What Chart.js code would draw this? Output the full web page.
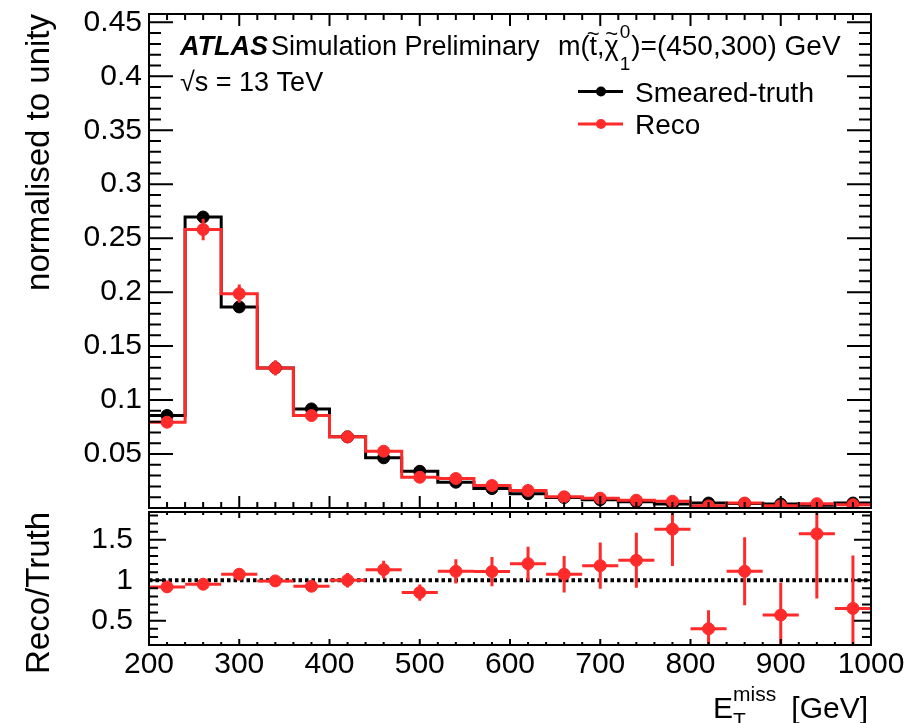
<!DOCTYPE html>
<html>
<head>
<meta charset="utf-8">
<script src="https://cdn.jsdelivr.net/npm/chart.js@4"></script>
<style>
  html, body { margin: 0; background: #fff; }
  #wrap { position: relative; width: 919px; height: 723px; }
  #wrap canvas { position: absolute; left: 0; top: 0; }
</style>
</head>
<body>
<div id="wrap">
  <canvas id="main" width="919" height="723"></canvas>
  <canvas id="ratio" width="919" height="723"></canvas>
</div>
<script>
const FONT = '"Liberation Sans", Arial, Helvetica, sans-serif';
const RED = '#ff2a2a';

// binning in E_T^miss [GeV]
const BIN_EDGES = [200, 240, 280, 320, 360, 400, 440, 480, 520, 560, 600, 640, 680, 720, 760, 800, 840, 880, 920, 960, 1000];
const BIN_CENTERS = [220, 260, 300, 340, 380, 420, 460, 500, 540, 580, 620, 660, 700, 740, 780, 820, 860, 900, 940, 980];

// normalised distributions
const TRUTH = [0.0857, 0.2696, 0.1863, 0.1298, 0.0918, 0.0659, 0.0465, 0.0340, 0.0239, 0.0180,
               0.0131, 0.0097, 0.0077, 0.0058, 0.0038, 0.0046, 0.0041, 0.0037, 0.0025, 0.0046];
const RECO = [0.0795, 0.2580, 0.1986, 0.1298, 0.0856, 0.0659, 0.0526, 0.0285, 0.0273, 0.0208,
              0.0162, 0.0104, 0.0091, 0.0072, 0.0062, 0.0019, 0.0046, 0.0021, 0.0040, 0.0030];
const RECO_ERR = [0.004, 0.010, 0.0085, 0.007, 0.005, 0.004, 0.0035, 0.003, 0.003, 0.0025,
                  0.0025, 0.002, 0.002, 0.002, 0.002, 0.0015, 0.002, 0.0015, 0.002, 0.0015];

// ratio panel
const RATIO = [0.918, 0.951, 1.074, 0.992, 0.926, 1.0, 1.131, 0.848, 1.11, 1.107,
               1.205, 1.074, 1.18, 1.246, 1.63, 0.40, 1.11, 0.57, 1.574, 0.652];
const RATIO_ERR = [0.045, 0.035, 0.045, 0.04, 0.04, 0.09, 0.11, 0.10, 0.15, 0.18,
                   0.21, 0.225, 0.285, 0.34, 0.455, 0.23, 0.42, 0.40, 0.80, 0.655];

const X_TICKS = [200, 300, 400, 500, 600, 700, 800, 900, 1000];
const Y_TICKS = [0.05, 0.1, 0.15, 0.2, 0.25, 0.3, 0.35, 0.4, 0.45];
const RATIO_TICKS = [0.5, 1, 1.5];

Chart.defaults.font.family = FONT;
Chart.defaults.color = '#000';

const stepData = vals => BIN_EDGES.map((x, i) => ({ x, y: vals[Math.min(i, vals.length - 1)] }));
const pointData = vals => BIN_CENTERS.map((x, i) => ({ x, y: vals[i] }));

function steps(min, max, step) {
  const out = [];
  for (let i = Math.ceil(min / step - 1e-6); i * step <= max + 1e-9; i++) out.push(i * step);
  return out;
}

// ROOT-like frame with inward ticks on all four sides
function drawFrame(chart, t) {
  const { ctx, chartArea: a, scales: { x, y } } = chart;
  ctx.save();
  ctx.strokeStyle = '#000';
  ctx.lineWidth = 2;
  ctx.beginPath();
  const seg = (x1, y1, x2, y2) => { ctx.moveTo(x1, y1); ctx.lineTo(x2, y2); };
  const xt = (v, len) => { const p = x.getPixelForValue(v); seg(p, a.bottom, p, a.bottom - len); seg(p, a.top, p, a.top + len); };
  const yt = (v, len) => { const p = y.getPixelForValue(v); seg(a.left, p, a.left + len, p); seg(a.right, p, a.right - len, p); };
  steps(x.min, x.max, t.xMinor).forEach(v => xt(v, t.xLen[1]));
  X_TICKS.forEach(v => xt(v, t.xLen[0]));
  steps(y.min, y.max, t.yMinor).forEach(v => yt(v, t.yLen[1]));
  t.yTicks.forEach(v => yt(v, t.yLen[0]));
  ctx.stroke();
  ctx.strokeRect(a.left, a.top, a.right - a.left, a.bottom - a.top);
  ctx.restore();
}

function drawErrors(chart, vals, errs, withX, color) {
  const { ctx, chartArea: a, scales: { x, y } } = chart;
  ctx.save();
  ctx.beginPath();
  ctx.rect(a.left, a.top, a.right - a.left, a.bottom - a.top);
  ctx.clip();
  ctx.strokeStyle = color;
  ctx.lineWidth = 3;
  ctx.beginPath();
  BIN_CENTERS.forEach((c, i) => {
    const px = x.getPixelForValue(c);
    ctx.moveTo(px, y.getPixelForValue(vals[i] - errs[i]));
    ctx.lineTo(px, y.getPixelForValue(vals[i] + errs[i]));
    if (withX) {
      const py = y.getPixelForValue(vals[i]);
      ctx.moveTo(x.getPixelForValue(BIN_EDGES[i]), py);
      ctx.lineTo(x.getPixelForValue(BIN_EDGES[i + 1]), py);
    }
  });
  ctx.stroke();
  ctx.restore();
}

function text(ctx, s, x, y, size, style, align) {
  ctx.font = `${style || ''} ${size}px ${FONT}`;
  ctx.textAlign = align || 'left';
  ctx.textBaseline = 'alphabetic';
  ctx.fillStyle = '#000';
  ctx.fillText(s, x, y);
  return ctx.measureText(s).width;
}

function vtitle(ctx, s, x, yEnd, size) {
  ctx.save();
  ctx.translate(x, yEnd);
  ctx.rotate(-Math.PI / 2);
  text(ctx, s, 0, 0, size, '', 'right');
  ctx.restore();
}

const mainDeco = {
  id: 'mainDeco',
  beforeDatasetDraw(chart, args) {
    if (args.index === 3) drawErrors(chart, RECO, RECO_ERR, false, RED);
  },
  afterDatasetsDraw(chart) {
    drawFrame(chart, { xMinor: 20, yMinor: 0.01, xLen: [12, 6], yLen: [24, 12], yTicks: Y_TICKS });
  },
  afterDraw(chart) {
    const ctx = chart.ctx;
    vtitle(ctx, 'normalised to unity', 49, chart.chartArea.top, 33);

    // ATLAS label
    const w = text(ctx, 'ATLAS', 180, 55, 27, 'italic bold');
    text(ctx, 'Simulation Preliminary', 180 + w + 3, 55, 27);
    text(ctx, '\u221As = 13 TeV', 180, 91, 27);

    // m(stop, neutralino) label
    let x = 558;
    x += text(ctx, 'm(', x, 55, 27);
    const tw = text(ctx, 't', x, 55, 27);
    text(ctx, '~', x + tw / 2, 41, 22, '', 'center');
    x += tw;
    x += text(ctx, ',', x, 55, 27);
    const cw = text(ctx, '\u03C7', x, 55, 27);
    text(ctx, '~', x + cw / 2, 41, 22, '', 'center');
    x += cw;
    text(ctx, '1', x + 1, 70, 19);
    x += text(ctx, '0', x + 1, 38, 19) + 2;
    text(ctx, ')=(450,300) GeV', x, 55, 28);

    // legend
    const items = [['Smeared-truth', '#000', 91.5], ['Reco', RED, 124]];
    items.forEach(([label, col, ly]) => {
      ctx.save();
      ctx.strokeStyle = col;
      ctx.fillStyle = col;
      ctx.lineWidth = 3;
      ctx.beginPath();
      ctx.moveTo(578, ly);
      ctx.lineTo(623, ly);
      ctx.stroke();
      ctx.beginPath();
      ctx.arc(601, ly, 5, 0, Math.PI * 2);
      ctx.fill();
      ctx.restore();
      text(ctx, label, 635, ly + 10, 28);
    });
  }
};

const ratioDeco = {
  id: 'ratioDeco',
  beforeDatasetDraw(chart, args) {
    if (args.index === 1) drawErrors(chart, RATIO, RATIO_ERR, true, RED);
  },
  afterDatasetsDraw(chart) {
    drawFrame(chart, { xMinor: 20, yMinor: 0.1, xLen: [6, 3], yLen: [17, 9], yTicks: RATIO_TICKS });
  },
  afterDraw(chart) {
    const ctx = chart.ctx;
    vtitle(ctx, 'Reco/Truth', 49, chart.chartArea.top, 33);
    // x-axis title E_T^miss [GeV]
    const ew = text(ctx, 'E', 713, 718, 30);
    text(ctx, 'T', 713 + ew, 727, 21);
    text(ctx, 'miss', 713 + ew, 701, 21);
    text(ctx, '[GeV]', 868, 718, 30, '', 'right');
  }
};

new Chart(document.getElementById('main'), {
  type: 'scatter',
  data: {
    datasets: [
      { label: 'Smeared-truth', data: stepData(TRUTH), showLine: true, stepped: true,
        borderColor: '#000', borderWidth: 3, pointRadius: 0, order: 4 },
      { label: 'Reco', data: stepData(RECO), showLine: true, stepped: true,
        borderColor: RED, borderWidth: 3, pointRadius: 0, order: 3 },
      { data: pointData(TRUTH), pointRadius: 6, backgroundColor: '#000', borderColor: '#000', order: 2 },
      { data: pointData(RECO), pointRadius: 6, backgroundColor: RED, borderColor: RED, order: 1 }
    ]
  },
  options: {
    responsive: false,
    animation: false,
    events: [],
    layout: { padding: { left: 0, top: 14, right: 48, bottom: 215 } },
    plugins: { legend: { display: false }, tooltip: { enabled: false } },
    scales: {
      x: { type: 'linear', min: 200, max: 1000, display: false },
      y: {
        type: 'linear', min: 0, max: 0.4577,
        grid: { display: false, drawTicks: false },
        border: { display: false },
        afterBuildTicks: s => { s.ticks = Y_TICKS.map(value => ({ value })); },
        afterFit: s => { s.width = 149; s.paddingTop = 0; s.paddingBottom = 0; },
        ticks: { padding: 7, autoSkip: false, font: { size: 30 }, callback: v => String(v) }
      }
    }
  },
  plugins: [mainDeco]
});

new Chart(document.getElementById('ratio'), {
  type: 'scatter',
  data: {
    datasets: [
      { data: [{ x: BIN_EDGES[0], y: 1 }, { x: BIN_EDGES[BIN_EDGES.length - 1], y: 1 }],
        showLine: true, borderColor: '#000', borderWidth: 4, borderDash: [3.5, 3], pointRadius: 0, order: 2 },
      { data: pointData(RATIO), pointRadius: 6, backgroundColor: RED, borderColor: RED, order: 1 }
    ]
  },
  options: {
    responsive: false,
    animation: false,
    events: [],
    layout: { padding: { left: 0, top: 512, right: 48, bottom: 0 } },
    plugins: { legend: { display: false }, tooltip: { enabled: false } },
    scales: {
      x: {
        type: 'linear', min: 200, max: 1000,
        grid: { display: false, drawTicks: false },
        border: { display: false },
        afterBuildTicks: s => { s.ticks = X_TICKS.map(value => ({ value })); },
        afterFit: s => { s.height = 78; s.paddingLeft = 0; s.paddingRight = 0; },
        ticks: { padding: 2, autoSkip: false, maxRotation: 0, font: { size: 30 }, callback: v => String(v) }
      },
      y: {
        type: 'linear', min: 0.2, max: 1.843,
        grid: { display: false, drawTicks: false },
        border: { display: false },
        afterBuildTicks: s => { s.ticks = RATIO_TICKS.map(value => ({ value })); },
        afterFit: s => { s.width = 149; s.paddingTop = 0; s.paddingBottom = 0; },
        ticks: { padding: 16, autoSkip: false, font: { size: 30 }, callback: v => String(v) }
      }
    }
  },
  plugins: [ratioDeco]
});
</script>
</body>
</html>
